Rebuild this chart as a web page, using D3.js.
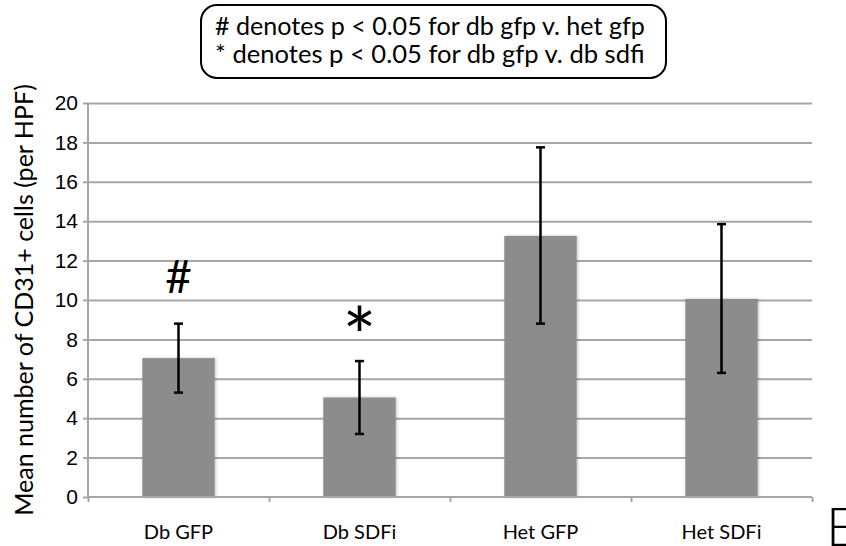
<!DOCTYPE html>
<html>
<head>
<meta charset="utf-8">
<script src="https://cdn.jsdelivr.net/npm/d3@7"></script>
<style>
  body { margin: 0; background: #fff; }
  svg { display: block; font-family: "Lato", "Noto Sans", sans-serif; }
  .grid line, .axis path, .axis line { stroke: #a6a6a6; stroke-width: 2; }
  .axis text { fill: #000; }
</style>
</head>
<body>
<div id="chart"></div>
<script>
const categories = ["Db GFP", "Db SDFi", "Het GFP", "Het SDFi"];
const means = [7.05, 5.05, 13.25, 10.05];
const errLow = [5.3, 3.2, 8.8, 6.3];
const errHigh = [8.8, 6.9, 17.75, 13.85];
const marks = ["#", "*", "", ""];
const yTicks = [0, 2, 4, 6, 8, 10, 12, 14, 16, 18, 20];
const yTitle = "Mean number of CD31+ cells (per HPF)";
const legendLines = [
  "# denotes p < 0.05 for db gfp v. het gfp",
  "* denotes p < 0.05 for db gfp v. db sdfi",
];
const panelLetter = "E";

const data = categories.map((c, i) => ({
  name: c,
  mean: means[i],
  lo: errLow[i],
  hi: errHigh[i],
  mark: marks[i],
}));

const dimensions = {
  width: 846,
  height: 546,
  margin: { top: 103, right: 34, bottom: 49, left: 88 },
};
dimensions.boundedWidth =
  dimensions.width - dimensions.margin.left - dimensions.margin.right;
dimensions.boundedHeight =
  dimensions.height - dimensions.margin.top - dimensions.margin.bottom;

const wrapper = d3
  .select("#chart")
  .append("svg")
  .attr("width", dimensions.width)
  .attr("height", dimensions.height);

const defs = wrapper.append("defs");
defs
  .append("filter")
  .attr("id", "shadow")
  .attr("x", "-20%")
  .attr("width", "140%")
  .append("feDropShadow")
  .attr("dx", 1)
  .attr("dy", 0)
  .attr("stdDeviation", 1.5)
  .attr("flood-color", "#000")
  .attr("flood-opacity", 0.25);

const bounds = wrapper
  .append("g")
  .attr(
    "transform",
    `translate(${dimensions.margin.left},${dimensions.margin.top})`
  );

const yScale = d3
  .scaleLinear()
  .domain([0, 20])
  .range([dimensions.boundedHeight, 0]);
const xScale = d3
  .scaleBand()
  .domain(categories)
  .range([0, dimensions.boundedWidth])
  .paddingInner(0.6)
  .paddingOuter(0.3);
const edgeScale = d3
  .scaleLinear()
  .domain([0, categories.length])
  .range([0, dimensions.boundedWidth]);

// gridlines
bounds
  .append("g")
  .attr("class", "grid")
  .call(
    d3
      .axisLeft(yScale)
      .tickValues(yTicks.filter((d) => d > 0))
      .tickSize(-dimensions.boundedWidth)
      .tickFormat("")
  )
  .call((g) => g.select(".domain").remove());

// y axis
const yAxis = bounds
  .append("g")
  .attr("class", "axis")
  .call(d3.axisLeft(yScale).tickValues(yTicks).tickSize(5).tickPadding(5));
yAxis.selectAll("text").style("font-size", "21px");
yAxis.select(".domain").attr("d", `M0,0V${dimensions.boundedHeight}`);

// bars
bounds
  .append("g")
  .selectAll("rect")
  .data(data)
  .join("rect")
  .attr("x", (d) => xScale(d.name))
  .attr("y", (d) => yScale(d.mean))
  .attr("width", xScale.bandwidth())
  .attr("height", (d) => yScale(0) - yScale(d.mean))
  .attr("fill", "#8c8c8c")
  .attr("filter", "url(#shadow)");

// x axis (boundary ticks)
const xAxis = bounds
  .append("g")
  .attr("class", "axis")
  .attr("transform", `translate(0,${dimensions.boundedHeight})`)
  .call(
    d3
      .axisBottom(edgeScale)
      .tickValues(d3.range(categories.length + 1))
      .tickSize(5)
      .tickFormat("")
  );
xAxis.select(".domain").attr("d", `M0,0H${dimensions.boundedWidth}`);

bounds
  .append("g")
  .attr("transform", `translate(0,${dimensions.boundedHeight})`)
  .selectAll("text")
  .data(categories)
  .join("text")
  .attr("x", (d) => xScale(d) + xScale.bandwidth() / 2)
  .attr("y", 42)
  .attr("text-anchor", "middle")
  .style("font-size", "20px")
  .text((d) => d);

// error bars
const cap = 4.5;
const errors = bounds
  .append("g")
  .attr("stroke", "#000")
  .attr("stroke-width", 2.5)
  .selectAll("g")
  .data(data)
  .join("g")
  .attr("transform", (d) => `translate(${xScale(d.name) + xScale.bandwidth() / 2},0)`);
errors
  .append("line")
  .attr("y1", (d) => yScale(d.lo))
  .attr("y2", (d) => yScale(d.hi));
errors
  .append("line")
  .attr("x1", -cap)
  .attr("x2", cap)
  .attr("y1", (d) => yScale(d.lo))
  .attr("y2", (d) => yScale(d.lo));
errors
  .append("line")
  .attr("x1", -cap)
  .attr("x2", cap)
  .attr("y1", (d) => yScale(d.hi))
  .attr("y2", (d) => yScale(d.hi));

// significance marks
bounds
  .append("g")
  .selectAll("text")
  .data(data.filter((d) => d.mark))
  .join("text")
  .attr("x", (d) => xScale(d.name) + xScale.bandwidth() / 2)
  .attr("y", (d) => (d.mark === "#" ? yScale(d.hi) - 31 : yScale(d.hi) + 4))
  .attr("text-anchor", "middle")
  .style("font-size", (d) => (d.mark === "#" ? "46px" : "80px"))
  .text((d) => d.mark);

// y title
wrapper
  .append("text")
  .attr("transform", `translate(33,300) rotate(-90)`)
  .attr("text-anchor", "middle")
  .style("font-size", "22px")
  .text(yTitle)
  .each(function () {
    const len = this.getComputedTextLength();
    d3.select(this).style("font-size", (22 * 432) / len + "px");
  });

// legend box
const legend = wrapper.append("g");
legend
  .append("rect")
  .attr("x", 201)
  .attr("y", 5)
  .attr("width", 465)
  .attr("height", 73)
  .attr("rx", 16)
  .attr("fill", "#fff")
  .attr("stroke", "#000")
  .attr("stroke-width", 2);
legend
  .selectAll("text")
  .data(legendLines)
  .join("text")
  .attr("x", 215)
  .attr("y", (d, i) => 35 + i * 28)
  .style("font-size", "22px")
  .text((d) => d)
  .each(function () {
    const len = this.getComputedTextLength();
    d3.select(this).style("font-size", (22 * 430) / len + "px");
  });

// panel letter (clipped at the corner, as in the source figure)
wrapper
  .append("text")
  .attr("x", 826)
  .attr("y", 546)
  .style("font-size", "54px")
  .style("font-weight", 300)
  .text(panelLetter);
</script>
</body>
</html>
